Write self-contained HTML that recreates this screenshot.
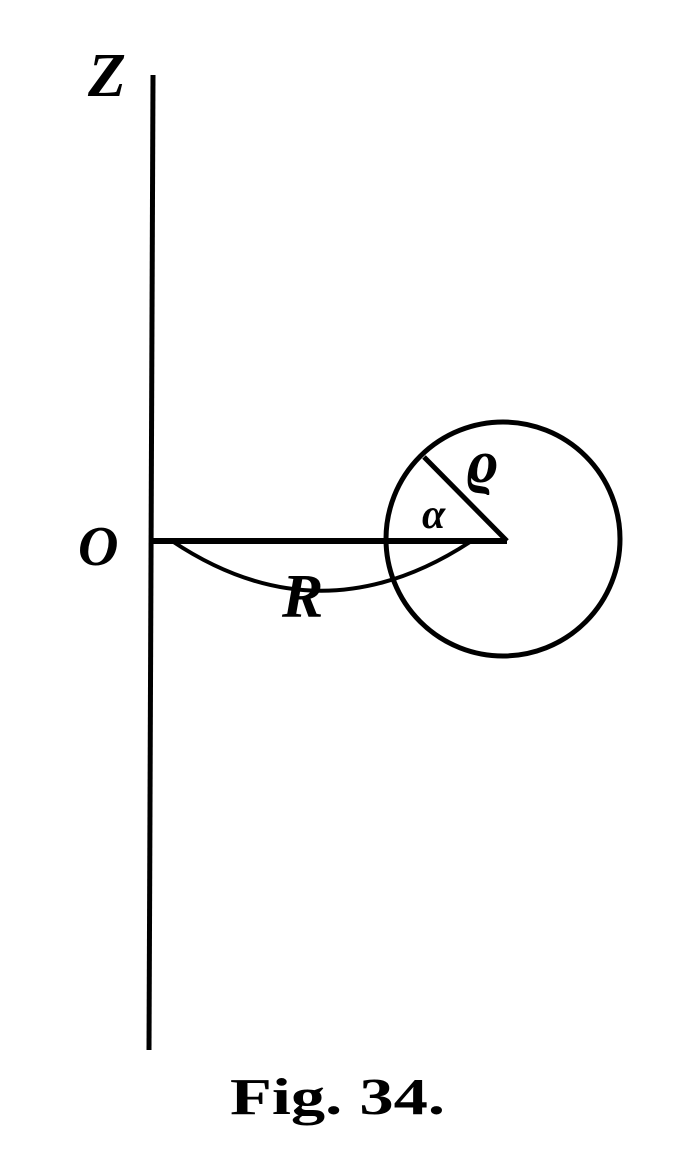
<!DOCTYPE html>
<html><head><style>body{margin:0;background:#fff}</style></head><body>
<svg width="696" height="1160" xmlns="http://www.w3.org/2000/svg">
<rect width="696" height="1160" fill="#fff"/>
<line x1="153" y1="75" x2="149" y2="1050" stroke="#000" stroke-width="5"/>
<line x1="150" y1="541" x2="507" y2="541" stroke="#000" stroke-width="6"/>
<circle cx="503" cy="539" r="117" fill="none" stroke="#000" stroke-width="5"/>
<line x1="507" y1="541" x2="424" y2="457" stroke="#000" stroke-width="5"/>
<path d="M172,541 Q320,640 470,542" fill="none" stroke="#000" stroke-width="4"/>
<g font-family="Liberation Serif, serif" font-weight="bold" font-style="italic" fill="#000">
<text x="88" y="96" font-size="62">Z</text>
<text x="78" y="565" font-size="56">O</text>
<text x="282" y="617" font-size="62">R</text>
<text x="422" y="528" font-size="42">α</text>
<text x="466" y="482" font-size="60">ϱ</text>
</g>
<text x="230" y="1114" font-family="Liberation Serif, serif" font-weight="bold" font-size="52" fill="#000" textLength="215" lengthAdjust="spacingAndGlyphs">Fig. 34.</text>
</svg>
</body></html>
